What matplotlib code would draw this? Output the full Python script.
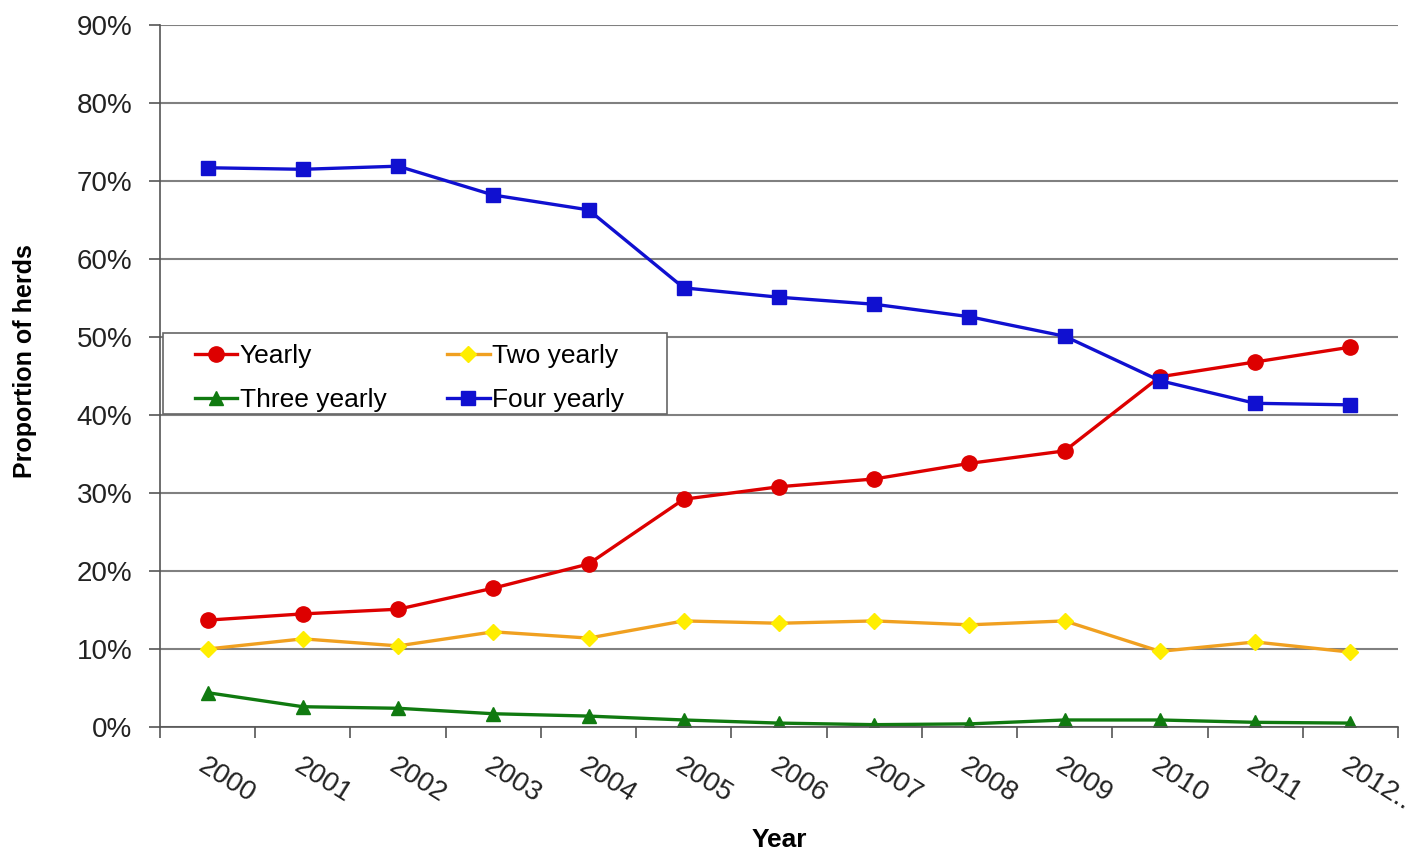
import matplotlib.pyplot as plt
from matplotlib.patches import Rectangle
from matplotlib.ticker import FixedLocator, PercentFormatter

plt.rcParams['font.family'] = ['Liberation Sans', 'DejaVu Sans']

years = ['2000', '2001', '2002', '2003', '2004', '2005', '2006',
         '2007', '2008', '2009', '2010', '2011', '2012..']
yearly = [13.7, 14.5, 15.1, 17.8, 20.9, 29.2, 30.8, 31.8, 33.8, 35.4, 44.9, 46.8, 48.7]
two_yearly = [10.0, 11.3, 10.4, 12.2, 11.4, 13.6, 13.3, 13.6, 13.1, 13.6, 9.7, 10.9, 9.6]
three_yearly = [4.4, 2.6, 2.4, 1.7, 1.4, 0.9, 0.5, 0.3, 0.4, 0.9, 0.9, 0.6, 0.5]
four_yearly = [71.7, 71.5, 71.9, 68.2, 66.3, 56.3, 55.1, 54.2, 52.6, 50.1, 44.4, 41.5, 41.3]

W, H = 1422, 856
fig = plt.figure(figsize=(W / 100, H / 100), dpi=100)
ax = fig.add_axes([160 / W, 1 - 727 / H, 1238 / W, 702 / H])

x = list(range(len(years)))
l1, = ax.plot(x, yearly, color='#dd0000', marker='o', markersize=11, lw=2.4, label='Yearly')
l2, = ax.plot(x, two_yearly, color='#f0a020', marker='D', markersize=8,
              markerfacecolor='#ffee00', markeredgecolor='#ffee00', lw=2.4, label='Two yearly')
l3, = ax.plot(x, three_yearly, color='#107a10', marker='^', markersize=10, lw=2.4, label='Three yearly')
l4, = ax.plot(x, four_yearly, color='#1010d0', marker='s', markersize=10, lw=2.4, label='Four yearly')

ax.set_xlim(-0.5, len(years) - 0.5)
ax.set_ylim(0, 90)
ax.set_yticks(range(0, 91, 10))
ax.yaxis.set_major_formatter(PercentFormatter(decimals=0))
ax.yaxis.grid(True, color='#808080', lw=1.5)
ax.set_axisbelow(True)

ax.set_xticks(x)
ax.set_xticklabels(years, rotation=-32, ha='left', va='top', rotation_mode='anchor',
                   fontsize=20, color='#222222')
ax.xaxis.set_minor_locator(FixedLocator([i - 0.5 for i in range(len(years) + 1)]))
ax.tick_params(axis='x', which='major', length=0, pad=19)
ax.tick_params(axis='x', which='minor', length=8, width=1.2, color='#555555')
ax.tick_params(axis='y', length=8, width=1.2, color='#555555', labelsize=20,
               labelcolor='#222222', pad=12)

for s in ['top', 'right']:
    ax.spines[s].set_visible(False)
for s in ['left', 'bottom']:
    ax.spines[s].set_color('#555555')
    ax.spines[s].set_linewidth(1.2)

ax.set_ylabel('Proportion of herds', fontsize=18, fontweight='bold', va='center')
ax.yaxis.set_label_coords((25 - 160) / 1238, (727 - 361) / 702)
ax.set_xlabel('Year', fontsize=19, fontweight='bold', va='center')
ax.xaxis.set_label_coords(0.5, (727 - 840) / 702)

# legend frame drawn by hand to get Excel-like inner padding
ax.add_patch(Rectangle(((163 - 160) / 1238, (727 - 414) / 702), 504 / 1238, 81 / 702,
                       transform=ax.transAxes, facecolor='white', edgecolor='#666666',
                       lw=1.2, zorder=4))
leg = ax.legend([l1, l3, l2, l4], ['Yearly', 'Three yearly', 'Two yearly', 'Four yearly'],
                loc='upper left', bbox_to_anchor=((195 - 160) / 1238, (727 - 344) / 702),
                borderaxespad=0, borderpad=0, ncol=2, fontsize=19, frameon=False,
                handlelength=1.6, handletextpad=0.1, columnspacing=2.3,
                labelspacing=0.75)
leg.set_zorder(5)

fig.savefig('out.png', dpi=100)
